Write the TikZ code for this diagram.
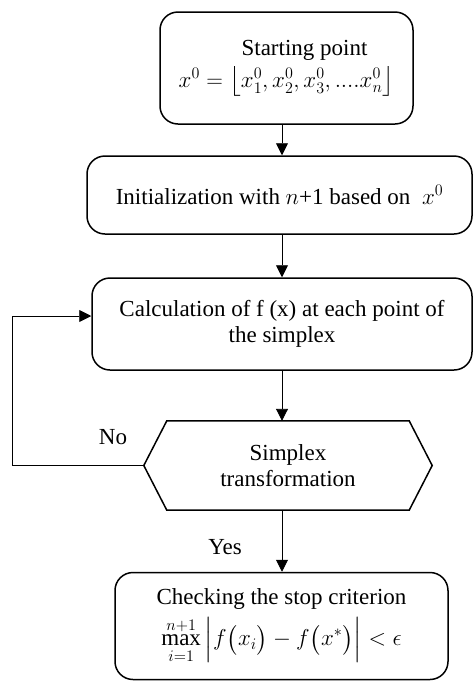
\documentclass[tikz,border=0pt]{standalone}
\usepackage{fix-cm}
\usepackage{amsmath}
\usepackage{fontspec}
\setmainfont{Liberation Serif}
\usetikzlibrary{arrows.meta,calc}
\begin{document}
\begin{tikzpicture}[x=1pt,y=-1pt,
  txt/.style={font=\fontsize{23}{26}\selectfont},
  box/.style={draw, line width=1.5pt, rounded corners=18pt, align=center, inner sep=0pt, txt},
  hexbox/.style={align=center, inner sep=0pt, txt},
  arr/.style={-{Triangle[length=12pt,width=12pt]}, line width=0.9pt},
  lbl/.style={txt}]
\useasboundingbox (0,0) rectangle (473,681);
\node[box, minimum width=253pt, minimum height=112pt] (b1) at (286.5,68)
  {\hspace*{36pt}Starting point\\[6pt] $x^0=\big\lfloor x_1^0, x_2^0, x_3^0,....x_n^0\big\rfloor$};
\node[box, minimum width=385pt, minimum height=78pt] (b2) at (279.5,195)
  {Initialization with $n$+1 based on \ $x^0$};
\node[box, minimum width=380pt, minimum height=92pt] (b3) at (282,324)
  {Calculation of f (x) at each point of\\the simplex};
\node[hexbox, minimum width=242pt, minimum height=89pt] (hx) at (288,465.5)
  {Simplex\\transformation};
\draw[line width=1.5pt] (hx.north west) -- (hx.north east) -- ($(hx.east)+(23,0)$)
  -- (hx.south east) -- (hx.south west) -- ($(hx.west)+(-23,0)$) -- cycle;
\coordinate (hl) at ($(hx.west)+(-23,0)$);
\node[box, minimum width=333pt, minimum height=107pt] (b4) at (281.5,626)
  {Checking the stop criterion\\[7pt] $\displaystyle\max_{i=1}^{n+1}\Big|f\big(x_i\big)-f\big(x^*\big)\Big|<\epsilon$};
\coordinate (ax) at (282,0);
\coordinate (fl) at (12,0);
\coordinate (fy) at (0,316);
\draw[arr] (b1.south -| ax) -- (b2.north -| ax);
\draw[arr] (b2.south -| ax) -- (b3.north -| ax);
\draw[arr] (b3.south -| ax) -- (hx.north -| ax);
\draw[arr] (hx.south -| ax) -- (b4.north -| ax);
\draw[arr] (hl) -- (fl |- hl) -- (fl |- fy) -- (b3.west |- fy);
\node[lbl] (no) at (113,437) {No};
\node[lbl] (yes) at (225,547) {Yes};
\end{tikzpicture}
\end{document}
